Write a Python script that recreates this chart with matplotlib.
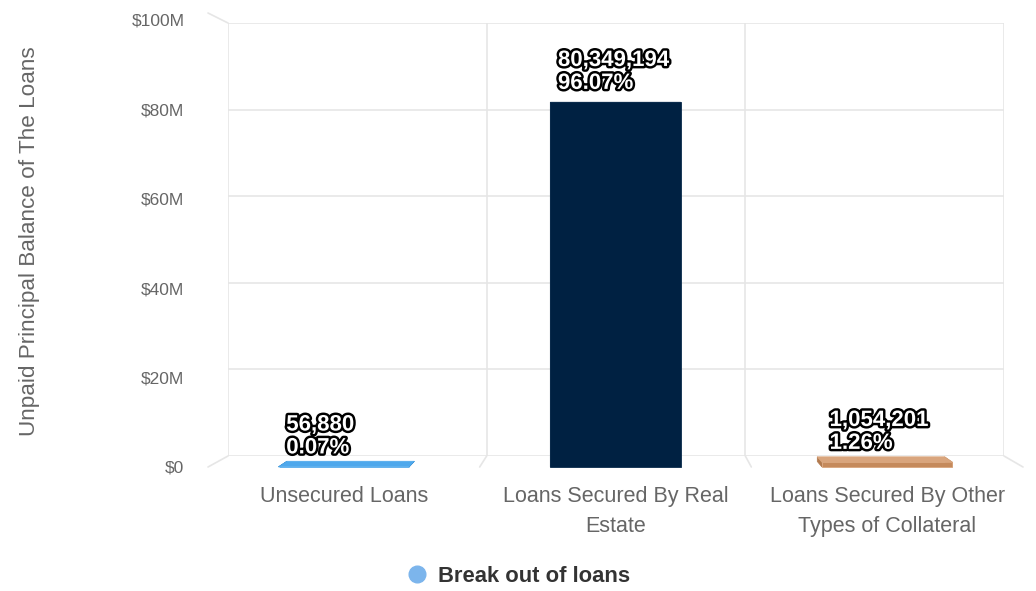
import matplotlib
matplotlib.use("Agg")
import matplotlib.pyplot as plt
import matplotlib.patheffects as pe
from matplotlib.patches import Rectangle, Polygon, ConnectionPatch
from matplotlib.lines import Line2D

plt.rcParams["font.family"] = ["Liberation Sans", "DejaVu Sans"]

categories = ["Unsecured Loans", "Loans Secured By Real\nEstate",
              "Loans Secured By Other\nTypes of Collateral"]
values = [56880, 80349194, 1054201]
percents = ["0.07%", "96.07%", "1.26%"]
front_colors = ["#3b93d6", "#002142", "#c58a5c"]
top_colors = ["#4ea8ec", "#0b2c4d", "#d9a57d"]
side_colors = ["#2f7fbd", "#001a35", "#b27a4e"]
yticks = [0, 20e6, 40e6, 60e6, 80e6, 100e6]
ytick_labels = ["$0", "$20M", "$40M", "$60M", "$80M", "$100M"]

W, H = 1036, 591
fig = plt.figure(figsize=(W / 100, H / 100), dpi=100)


def box(left, right, top, bottom):
    return [left / W, 1 - bottom / H, (right - left) / W, (bottom - top) / H]


def plane(rect, z):
    a = fig.add_axes(rect, zorder=z)
    a.set_xlim(-0.5, 2.5)
    a.set_ylim(0, 100e6)
    a.patch.set_alpha(0)
    a.axis("off")
    return a


# back wall, bar back plane, front plane
axW = plane(box(228, 1004, 23, 456), 0)
axB = plane(box(218, 1013.5, 18, 461.5), 1)
axF = plane(box(208, 1023, 13, 467), 2)
axT = plane(box(208, 1023, 20, 467), 1)

grid = "#e6e6e6"
for v in yticks:
    axW.axhline(v, color=grid, lw=1.2)
for x in [-0.5, 0.5, 1.5, 2.5]:
    axW.axvline(x, color=grid, lw=1.2)
# depth lines (sides / floor)
links = [((-0.5, 100e6), (-0.5, 100e6)), ((-0.5, 0), (-0.5, 0)),
         ((0.5, 0), (0.5, 0)), ((1.5, 0), (1.5, 0)), ((2.5, 0), (2.5, 0))]
for a, b in links:
    fig.add_artist(ConnectionPatch(a, b, coordsA=axW.transData, coordsB=axF.transData,
                                   color=grid, lw=1.2, zorder=0))

# y tick labels
axT.axis("on")
for s in axT.spines.values():
    s.set_visible(False)
axT.set_xticks([])
axT.set_yticks(yticks)
axT.set_yticklabels(ytick_labels)
axT.tick_params(axis="y", length=0, pad=17, labelsize=12.5, labelcolor="#666666")

# category labels
axF.axis("on")
for s in axF.spines.values():
    s.set_visible(False)
axF.set_yticks([])
axF.set_xticks(range(len(categories)))
axF.set_xticklabels(categories, linespacing=1.55)
axF.tick_params(axis="x", length=0, pad=14, labelsize=15.5, labelcolor="#666666")

to_front = axF.transData.inverted()
w = 0.24
for i, v in enumerate(values):
    def back(x, y):
        return tuple(to_front.transform(axB.transData.transform((x, y))))
    fl, fr = i - w, i + w
    top = [(fl, v), (fr, v), back(fr, v), back(fl, v)]
    left = [(fl, 0), (fl, v), back(fl, v), back(fl, 0)]
    right = [(fr, 0), (fr, v), back(fr, v), back(fr, 0)]
    for pts, c in [(left, side_colors[i]), (right, side_colors[i]), (top, top_colors[i])]:
        axF.add_patch(Polygon(pts, closed=True, facecolor=c, edgecolor=c, lw=0.5,
                              clip_on=False, zorder=2))
    axF.add_patch(Rectangle((fl, 0), 2 * w, v, facecolor=front_colors[i],
                            edgecolor=top_colors[i], lw=0.6, clip_on=False, zorder=3))
    axF.annotate(f"{v:,}\n{percents[i]}", xy=(fl, v), xytext=(5.5, 6),
                 textcoords="offset points", ha="left", va="bottom",
                 fontsize=16, fontweight="bold", color="white", linespacing=1.12,
                 path_effects=[pe.withStroke(linewidth=3.5, foreground="black")],
                 zorder=5, annotation_clip=False)

fig.text(30 / W, 1 - 241 / H, "Unpaid Principal Balance of The Loans", rotation=90,
         ha="center", va="center", fontsize=16.2, color="#666666")

handle = Line2D([], [], marker="o", ls="", color="#7cb5ec", markersize=12)
fig.legend([handle], ["Break out of loans"], loc="center",
           bbox_to_anchor=(518 / W, 1 - 576 / H), frameon=False, handlelength=1.0,
           handletextpad=0.45, prop={"size": 15.8, "weight": "bold"},
           labelcolor="#333333")

fig.savefig("out.png", dpi=100)
